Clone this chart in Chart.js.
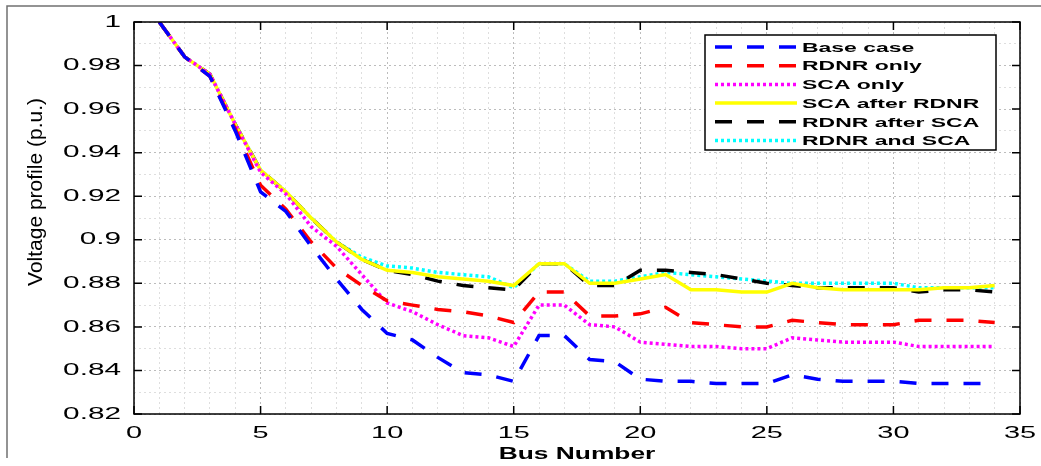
<!DOCTYPE html>
<html>
<head>
<meta charset="utf-8">
<script src="https://cdn.jsdelivr.net/npm/chart.js@4.4.0/dist/chart.umd.min.js"></script>
<style>
  body { margin: 0; background: #fff; }
  #wrap { width: 1041px; height: 466px; position: relative; }
</style>
</head>
<body>
<div id="wrap"><canvas id="myChart"></canvas></div>
<script>
// bus numbers (x axis)
const buses = [1, 2, 3, 4, 5, 6, 7, 8, 9, 10, 11, 12, 13, 14, 15, 16, 17, 18, 19, 20, 21, 22, 23, 24, 25, 26, 27, 28, 29, 30, 31, 32, 33, 34];

// voltage of each case
const baseCase = [1.000, 0.984, 0.975, 0.950, 0.922, 0.913, 0.897, 0.882, 0.868, 0.857, 0.854, 0.846, 0.839, 0.838, 0.835, 0.856, 0.856, 0.845, 0.844, 0.836, 0.835, 0.835, 0.834, 0.834, 0.834, 0.838, 0.836, 0.835, 0.835, 0.835, 0.834, 0.834, 0.834, 0.834];
const rdnrOnly = [1.000, 0.984, 0.975, 0.951, 0.925, 0.914, 0.899, 0.887, 0.879, 0.872, 0.870, 0.868, 0.867, 0.865, 0.862, 0.876, 0.876, 0.865, 0.865, 0.866, 0.869, 0.862, 0.861, 0.860, 0.860, 0.863, 0.862, 0.861, 0.861, 0.861, 0.863, 0.863, 0.863, 0.862];
const scaOnly = [1.000, 0.984, 0.976, 0.953, 0.931, 0.921, 0.906, 0.897, 0.884, 0.871, 0.867, 0.861, 0.856, 0.855, 0.851, 0.870, 0.870, 0.861, 0.860, 0.853, 0.852, 0.851, 0.851, 0.850, 0.850, 0.855, 0.854, 0.853, 0.853, 0.853, 0.851, 0.851, 0.851, 0.851];
const scaAfterRdnr = [1.000, 0.984, 0.976, 0.953, 0.932, 0.922, 0.910, 0.899, 0.891, 0.886, 0.885, 0.883, 0.882, 0.881, 0.879, 0.889, 0.889, 0.880, 0.880, 0.882, 0.884, 0.877, 0.877, 0.876, 0.876, 0.880, 0.878, 0.877, 0.877, 0.877, 0.877, 0.878, 0.878, 0.879];
const rdnrAfterSca = [1.000, 0.984, 0.976, 0.953, 0.932, 0.922, 0.910, 0.899, 0.891, 0.886, 0.884, 0.881, 0.879, 0.878, 0.877, 0.889, 0.889, 0.879, 0.879, 0.886, 0.886, 0.885, 0.884, 0.882, 0.880, 0.879, 0.878, 0.878, 0.878, 0.878, 0.876, 0.877, 0.877, 0.876];
const rdnrAndSca = [1.000, 0.984, 0.976, 0.953, 0.932, 0.922, 0.910, 0.899, 0.892, 0.888, 0.887, 0.885, 0.884, 0.883, 0.878, 0.889, 0.889, 0.881, 0.881, 0.883, 0.885, 0.884, 0.883, 0.882, 0.881, 0.880, 0.880, 0.880, 0.880, 0.880, 0.878, 0.878, 0.878, 0.878];

const seriesNames = ['Base case', 'RDNR only', 'SCA only', 'SCA after RDNR', 'RDNR after SCA', 'RDNR and SCA'];

// tick labels
const xTickValues = [0, 5, 10, 15, 20, 25, 30, 35];
const xTickLabels = ['0', '5', '10', '15', '20', '25', '30', '35'];
const yTickValues = [0.82, 0.84, 0.86, 0.88, 0.9, 0.92, 0.94, 0.96, 0.98, 1];
const yTickLabels = ['0.82', '0.84', '0.86', '0.88', '0.9', '0.92', '0.94', '0.96', '0.98', '1'];

const FONT = "'Liberation Sans', Arial, sans-serif";

function toPoints(vals) {
  return buses.map((b, i) => ({ x: b, y: vals[i] }));
}

// the figure's text is drawn wide, so scale it horizontally
function wideText(ctx, txt, x, y, align, sx) {
  ctx.save();
  ctx.translate(x, y);
  ctx.scale(sx, 1);
  ctx.textAlign = align;
  ctx.textBaseline = 'middle';
  ctx.fillText(txt, 0, 0);
  ctx.restore();
}

// box, inward ticks, tick labels and titles like the matlab figure
const axisDecor = {
  id: 'axisDecor',
  beforeDraw(chart) {
    const ctx = chart.ctx;
    ctx.save();
    ctx.strokeStyle = '#707070';
    ctx.lineWidth = 1.5;
    ctx.beginPath();
    ctx.moveTo(7, 458);
    ctx.lineTo(7, 6);
    ctx.lineTo(1041, 6);
    ctx.stroke();
    ctx.restore();
  },
  afterDraw(chart) {
    const { ctx, chartArea: a, scales: { x, y } } = chart;
    ctx.save();
    ctx.strokeStyle = '#000';
    ctx.lineWidth = 1.5;
    ctx.strokeRect(a.left, a.top, a.right - a.left, a.bottom - a.top);
    ctx.beginPath();
    xTickValues.forEach(v => {
      const px = x.getPixelForValue(v);
      ctx.moveTo(px, a.bottom); ctx.lineTo(px, a.bottom - 8);
      ctx.moveTo(px, a.top); ctx.lineTo(px, a.top + 8);
    });
    yTickValues.forEach(v => {
      const py = y.getPixelForValue(v);
      ctx.moveTo(a.left, py); ctx.lineTo(a.left + 8, py);
      ctx.moveTo(a.right, py); ctx.lineTo(a.right - 8, py);
    });
    ctx.stroke();

    ctx.fillStyle = '#000';
    ctx.font = '17px ' + FONT;
    xTickValues.forEach((v, i) => {
      wideText(ctx, xTickLabels[i], x.getPixelForValue(v), a.bottom + 19, 'center', 1.7);
    });
    yTickValues.forEach((v, i) => {
      wideText(ctx, yTickLabels[i], a.left - 13, y.getPixelForValue(v), 'right', 1.75);
    });

    ctx.font = 'bold 17px ' + FONT;
    wideText(ctx, 'Bus Number', (a.left + a.right) / 2, a.bottom + 40, 'center', 1.55);

    ctx.save();
    ctx.translate(36, 192);
    ctx.rotate(-Math.PI / 2);
    ctx.font = '21px ' + FONT;
    ctx.textAlign = 'center';
    ctx.textBaseline = 'middle';
    ctx.fillText('Voltage profile (p.u.)', 0, 0);
    ctx.restore();
    ctx.restore();
  }
};

// legend box in the top right corner of the axes
const boxLegend = {
  id: 'boxLegend',
  afterDraw(chart) {
    const ctx = chart.ctx;
    const left = 705, top = 35, right = 996, bottom = 150;
    ctx.save();
    ctx.fillStyle = '#fff';
    ctx.fillRect(left, top, right - left, bottom - top);
    ctx.strokeStyle = '#000';
    ctx.lineWidth = 1.5;
    ctx.strokeRect(left, top, right - left, bottom - top);
    ctx.font = 'bold 13.5px ' + FONT;
    chart.data.datasets.forEach((ds, i) => {
      const ry = 47 + i * 18.7;
      ctx.save();
      ctx.strokeStyle = ds.borderColor;
      ctx.lineWidth = ds.borderWidth;
      ctx.setLineDash(ds.borderDash || []);
      ctx.beginPath();
      ctx.moveTo(715, ry);
      ctx.lineTo(797, ry);
      ctx.stroke();
      ctx.restore();
      ctx.fillStyle = '#000';
      wideText(ctx, ds.label, 802, ry + 1, 'left', 1.7);
    });
    ctx.restore();
  }
};

const dashed = [17, 15];
const dotted = [3, 3];

new Chart(document.getElementById('myChart'), {
  type: 'line',
  data: {
    datasets: [
      { label: seriesNames[0], data: toPoints(baseCase), borderColor: '#0000ff', borderDash: dashed },
      { label: seriesNames[1], data: toPoints(rdnrOnly), borderColor: '#ff0000', borderDash: dashed },
      { label: seriesNames[2], data: toPoints(scaOnly), borderColor: '#ff00ff', borderDash: dotted },
      { label: seriesNames[3], data: toPoints(scaAfterRdnr), borderColor: '#ffff00' },
      { label: seriesNames[4], data: toPoints(rdnrAfterSca), borderColor: '#000000', borderDash: dashed },
      { label: seriesNames[5], data: toPoints(rdnrAndSca), borderColor: '#00ffff', borderDash: dotted }
    ].map(d => Object.assign(d, { borderWidth: 3.5, pointRadius: 0, tension: 0, fill: false }))
  },
  options: {
    responsive: true,
    maintainAspectRatio: false,
    animation: false,
    layout: { padding: { left: 134, top: 22, right: 21, bottom: 52 } },
    plugins: {
      legend: { display: false },
      tooltip: { enabled: false }
    },
    scales: {
      x: {
        type: 'linear',
        min: 0,
        max: 35,
        ticks: { stepSize: 1, display: false },
        grid: {
          drawTicks: false,
          color: c => (c.tick && c.tick.value % 5 === 0) ? '#bcbcbc' : '#dedede'
        },
        border: { display: false, dash: [2, 3] },
        afterFit: s => { s.height = 0; }
      },
      y: {
        min: 0.82,
        max: 1,
        ticks: { stepSize: 0.01, display: false },
        grid: {
          drawTicks: false,
          color: c => (c.tick && Math.round(c.tick.value * 100) % 2 === 0) ? '#bcbcbc' : '#dedede'
        },
        border: { display: false, dash: [2, 3] },
        afterFit: s => { s.width = 0; }
      }
    }
  },
  plugins: [axisDecor, boxLegend]
});
</script>
</body>
</html>
